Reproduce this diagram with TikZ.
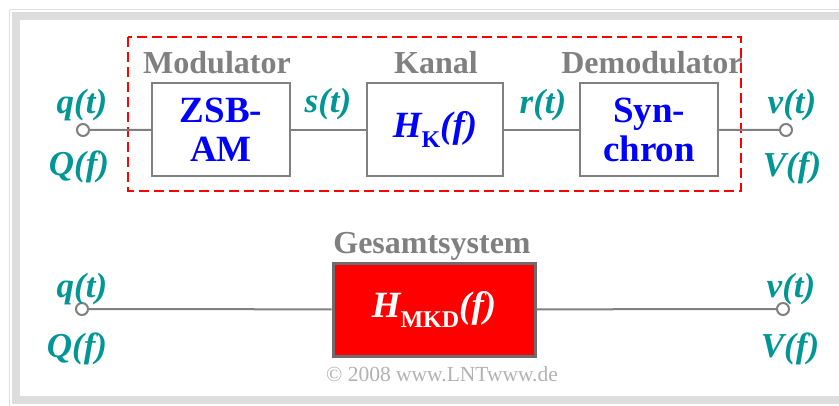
\documentclass[tikz,border=0pt]{standalone}
\usepackage{fontspec}
\setmainfont{Liberation Serif}
\definecolor{teal1}{RGB}{0,150,150}
\definecolor{bordergray}{RGB}{128,128,128}
\definecolor{titlegray}{RGB}{128,128,128}
\definecolor{framegray}{RGB}{221,221,221}
\definecolor{boxblue}{RGB}{0,0,255}
\newcommand{\lowsub}[1]{\raisebox{-0.28em}{\fontsize{24}{24}\selectfont\upshape #1}}
\tikzset{
  blockbox/.style={draw=bordergray, line width=2.2pt, fill=white, minimum width=138pt, minimum height=93pt, inner sep=0pt, align=center,
    font=\fontsize{37}{39}\selectfont\bfseries, text=boxblue},
  sig/.style={font=\fontsize{35}{35}\selectfont\bfseries\itshape, text=teal1, anchor=base, inner sep=0pt},
  titletext/.style={font=\fontsize{32}{32}\selectfont\bfseries, text=titlegray, anchor=base, inner sep=0pt},
  port/.style={circle, draw=bordergray, line width=2pt, fill=white, minimum size=12pt, inner sep=0pt},
  wire/.style={draw=bordergray, line width=2pt},
}
\begin{document}
\begin{tikzpicture}[x=1pt,y=-1pt]
\useasboundingbox (0,0) rectangle (839,405);
\fill[white] (0,0) rectangle (839,405);
% frame
\draw[framegray, line width=1.5pt] (9.5,9.5) -- (850,9.5);
\draw[framegray, line width=1.5pt] (9.5,9.5) -- (9.5,420);
\draw[framegray, line width=8pt] (850,16) -- (16,16) -- (16,400) -- (850,400);
% dashed frame
\draw[red, line width=2.5pt, dash pattern=on 10pt off 5pt] (128,37) rectangle (741,191);
% top row
\node[blockbox] (zsb) at (221,129.5) {ZSB-\\AM};
\node[blockbox, minimum width=136pt] (kanal) at (435,129.5) {\itshape H\lowsub{K}(f)};
\node[blockbox] (syn) at (649,129.5) {Syn-\\chron};
\node[port] (in1) at (83,130) {};
\node[port] (out1) at (786,130) {};
\draw[wire] (in1) -- (zsb);
\draw[wire] (zsb) -- (kanal);
\draw[wire] (kanal) -- (syn);
\draw[wire] (syn) -- (out1);
\node[titletext] (tmod) at (217,73) {Modulator};
\node[titletext] (tkan) at (436,73) {Kanal};
\node[titletext] (tdem) at (652,73) {Demodulator};
\node[sig] (q1) at (82,113) {q(t)};
\node[sig] (Q1) at (79,175) {Q(f)};
\node[sig] (s1) at (328,112) {s(t)};
\node[sig] (r1) at (543,113) {r(t)};
\node[sig] (v1) at (792,113) {v(t)};
\node[sig] (V1) at (792,176) {V(f)};
% bottom row
\node[draw=bordergray!85!black, line width=3pt, fill=red, minimum width=202pt, minimum height=93pt, inner sep=0pt,
  font=\fontsize{37}{37}\selectfont\bfseries\itshape, text=white] (ges) at (434,309.5) {H\lowsub{MKD}(f)};
\node[port] (in2) at (82,309) {};
\node[port] (out2) at (783,309) {};
\draw[wire] (in2) -- (ges);
\draw[wire] (ges) -- (out2);
\node[titletext] (tges) at (432,253) {Gesamtsystem};
\node[sig] (q2) at (82,297) {q(t)};
\node[sig] (Q2) at (77,357) {Q(f)};
\node[sig] (v2) at (791,297) {v(t)};
\node[sig] (V2) at (790,357) {V(f)};
\node[font=\fontsize{21.5}{21.5}\selectfont, text=black!30, anchor=base, inner sep=0pt] (copy) at (442,381) {© 2008 www.LNTwww.de};
\end{tikzpicture}
\end{document}
